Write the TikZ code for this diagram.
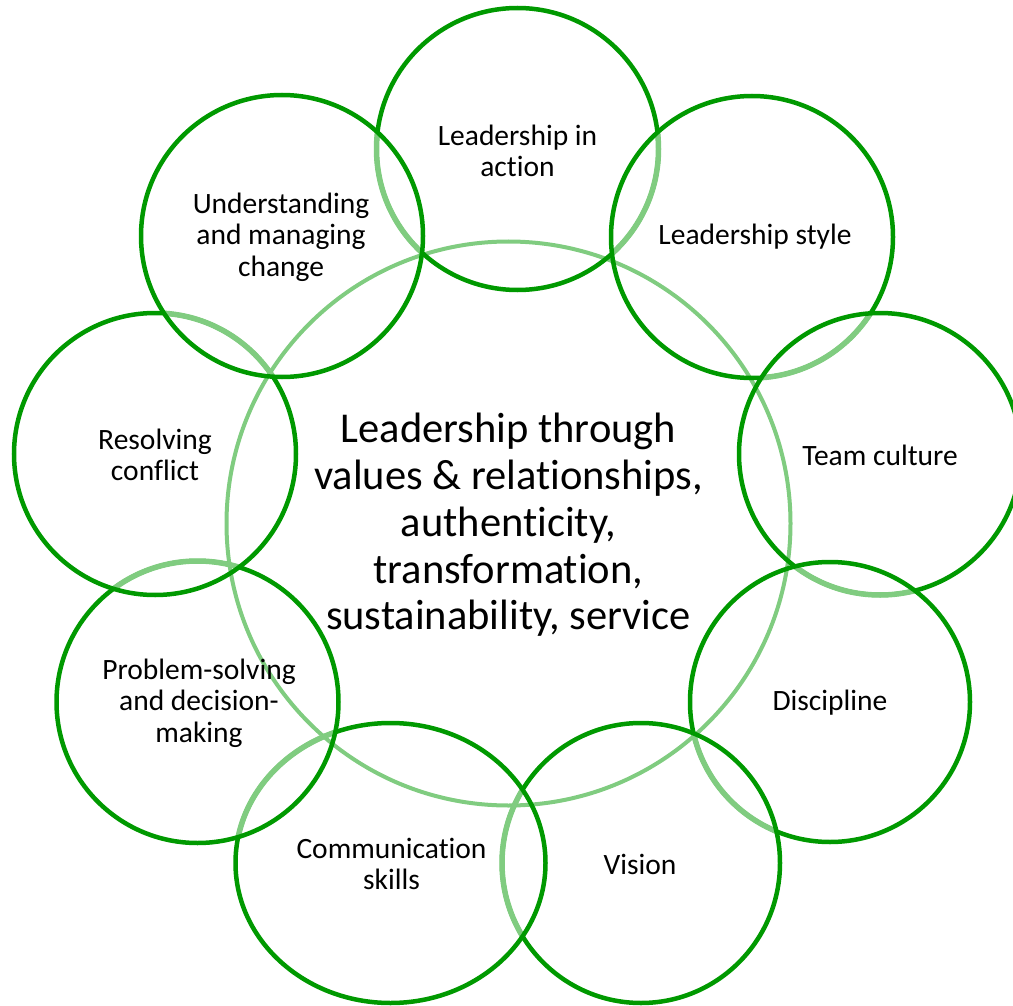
\documentclass[tikz,border=0pt]{standalone}
\usepackage{fontspec}
\setmainfont{Carlito}[Ligatures=NoCommon]
\usepackage{tikz}
\definecolor{leafdark}{HTML}{009900}
\definecolor{leaflight}{HTML}{80CC80}
\tikzset{ring/.style={draw=leafdark, line width=4.5pt}}
\tikzset{faded/.style={draw=leaflight, line width=5.5pt}}
\tikzset{hub/.style={draw=leaflight, line width=4pt}}
\tikzset{petaltext/.style={align=center, inner sep=0pt, font=\fontsize{29.5}{31.5}\selectfont}}
\tikzset{hubtext/.style={align=center, inner sep=0pt, font=\fontsize{42.5}{46.7}\selectfont}}

% petals, clockwise from the top: name/x/y/x radius/y radius
\def\petals{action/517.5/149/141/141, style/752/237/141/141,
  team/880/454/141/141, discipline/830/702/140/140, vision/641/863/139/140,
  comm/390.5/863/155/140, problem/197.5/702/141/141,
  resolving/155/454/141/141, change/282/236/141/141}

\begin{document}
\begin{tikzpicture}[x=1pt, y=-1pt]
    \useasboundingbox (0,0) rectangle (1013,1006);

    % the big circle in the middle
    \draw[hub] (508.5,523.5) circle[radius=282];

    % each petal fades the rims of the ones drawn before it
    \foreach \n/\cx/\cy/\rx/\ry [count=\j] in \petals {
        \begin{scope}
            \clip (\cx,\cy) ellipse[x radius=\rx, y radius=\ry];
            \foreach \m/\dx/\dy/\sx/\sy [count=\i] in \petals {
                \ifnum\i<\j
                    \draw[faded] (\dx,\dy) ellipse[x radius=\sx, y radius=\sy];
                \fi
            }
        \end{scope}
        \draw[ring] (\cx,\cy) ellipse[x radius=\rx, y radius=\ry];
    }

    \node[hubtext] (hub) at (508.5,525) {Leadership through\\values \& relationships,\\authenticity,\\transformation,\\sustainability, service};

    \node[petaltext] (action) at (517.5,151) {Leadership in\\action};
    \node[petaltext] (style) at (755,237) {Leadership style};
    \node[petaltext] (team) at (880,455) {Team culture};
    \node[petaltext] (discipline) at (830,703) {Discipline};
    \node[petaltext] (vision) at (640,864) {Vision};
    \node[petaltext] (comm) at (391.5,864) {Communication\\skills};
    \node[petaltext] (problem) at (199,703) {Problem-solving\\and decision-\\making};
    \node[petaltext] (resolving) at (155,455) {Resolving\\conflict};
    \node[petaltext] (change) at (281,237) {Understanding\\and managing\\change};
\end{tikzpicture}
\end{document}
